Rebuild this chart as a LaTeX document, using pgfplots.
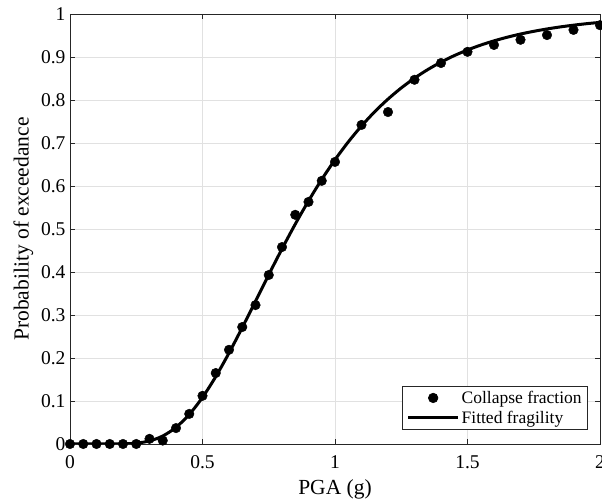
\documentclass[border=0pt]{standalone}
\usepackage{pgfplots}
\pgfplotsset{compat=1.18}
\usepackage{fontspec}
\setmainfont{Liberation Serif}
\definecolor{axgray}{RGB}{38,38,38}
\definecolor{gridgray}{RGB}{225,225,225}
\pgfplotsset{
  dotlegend/.style={legend image code/.code={\draw[##1] plot coordinates {(25pt,0pt)};}},
  linelegend/.style={legend image code/.code={\draw[##1] (0pt,0pt) -- (50pt,0pt);}},
}
\begin{document}
\begin{tikzpicture}
\begin{axis}[
  scale only axis,
  width=530pt, height=430pt,
  xmin=0, xmax=2, ymin=0, ymax=1,
  xtick={0,0.5,1,1.5,2},
  xticklabels={0,0.5,1,1.5,2},
  ytick={0,0.1,0.2,0.3,0.4,0.5,0.6,0.7,0.8,0.9,1},
  yticklabels={0,0.1,0.2,0.3,0.4,0.5,0.6,0.7,0.8,0.9,1},
  /pgf/number format/assume math mode=true,
  tick align=inside,
  major tick length=5pt,
  tick style={axgray, line width=0.6pt},
  axis line style={axgray, line width=0.6pt},
  grid=major,
  major grid style={gridgray, line width=0.6pt},
  ticklabel style={font=\fontsize{19.5}{22}\selectfont, text=black},
  xticklabel style={yshift=-8pt},
  yticklabel style={xshift=-1pt},
  xlabel={PGA (g)},
  ylabel={Probability of exceedance},
  label style={font=\fontsize{21.5}{24}\selectfont},
  xlabel style={yshift=-4pt},
  ylabel style={yshift=1pt},
  legend style={at={(1,0)}, anchor=south east, xshift=-12pt, yshift=14pt,
    font=\fontsize{17.5}{20}\selectfont, draw=axgray, line width=0.6pt,
    inner xsep=4pt, inner ysep=3pt, row sep=2pt, cells={anchor=west}},
  legend cell align=left,
]
\addplot[only marks, mark=*, mark size=4.8pt, black, dotlegend] coordinates {
(0,0) (0.05,0) (0.1,0) (0.15,0) (0.2,0) (0.25,0) (0.3,0.012) (0.35,0.008)
(0.4,0.037) (0.45,0.070) (0.5,0.112) (0.55,0.165) (0.6,0.219) (0.65,0.272)
(0.7,0.323) (0.75,0.393) (0.8,0.458) (0.85,0.533) (0.9,0.563) (0.95,0.612)
(1.0,0.656) (1.1,0.742) (1.2,0.772) (1.3,0.847) (1.4,0.886) (1.5,0.912)
(1.6,0.928) (1.7,0.940) (1.8,0.951) (1.9,0.963) (2.0,0.974)
};
\addlegendentry{Collapse fraction}
\addplot[black, line width=3pt, smooth, linelegend] coordinates {
(0,0) (0.1,0) (0.15,0.00002) (0.2,0.0003) (0.25,0.0020) (0.3,0.0071) (0.35,0.0186)
(0.4,0.0387) (0.45,0.0687) (0.5,0.1084) (0.55,0.1567) (0.6,0.2116)
(0.65,0.2708) (0.7,0.3321) (0.75,0.3937) (0.8,0.4538) (0.85,0.5113)
(0.9,0.5653) (0.95,0.6153) (1.0,0.6610) (1.05,0.7024) (1.1,0.7396)
(1.15,0.7728) (1.2,0.8021) (1.25,0.8280) (1.3,0.8508) (1.35,0.8707)
(1.4,0.8881) (1.45,0.9032) (1.5,0.9163) (1.55,0.9277) (1.6,0.9375)
(1.65,0.9460) (1.7,0.9534) (1.75,0.9597) (1.8,0.9652) (1.85,0.9699)
(1.9,0.9740) (1.95,0.9775) (2.0,0.9805)
};
\addlegendentry{Fitted fragility}
\end{axis}
\pgfresetboundingbox
\path (current axis.south west) ++(-70pt,-58pt) coordinate (bbA);
\path (current axis.north east) ++(2pt,14pt) coordinate (bbB);
\useasboundingbox (bbA) rectangle (bbB);
\end{tikzpicture}
\end{document}
